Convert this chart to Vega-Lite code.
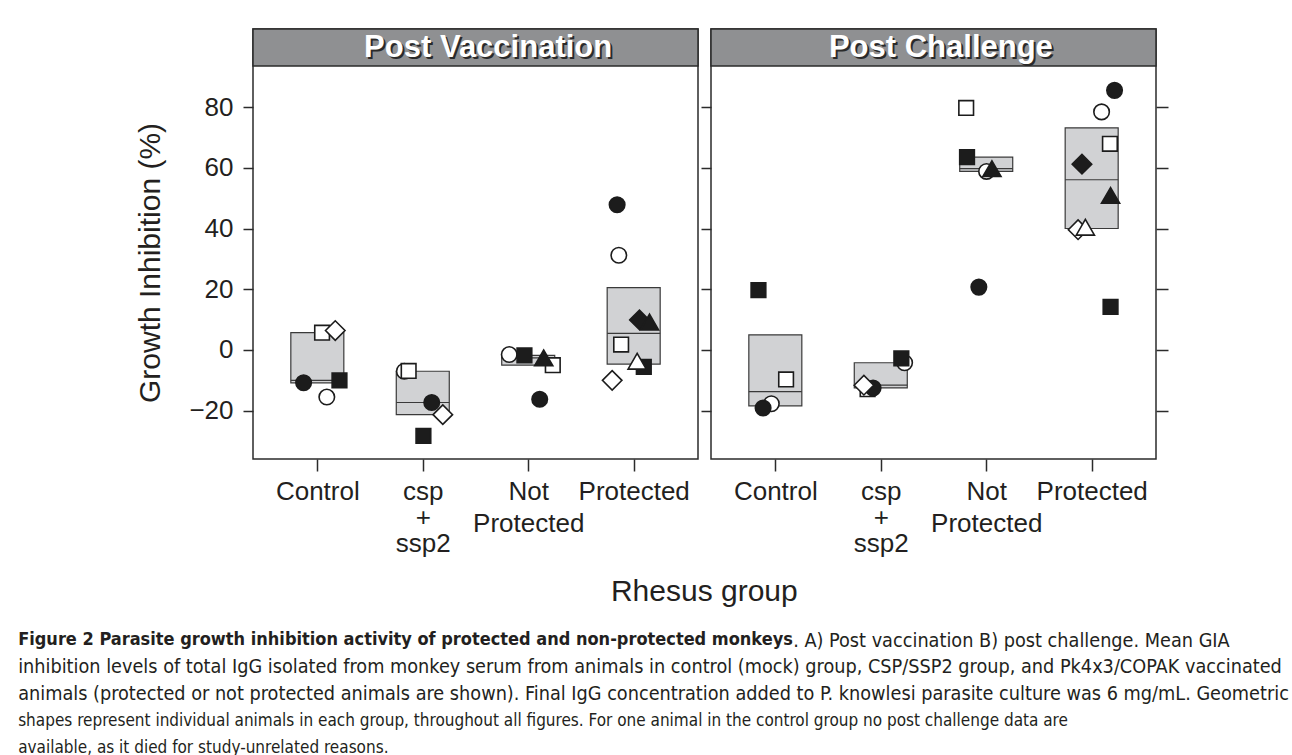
{
  "$schema": "https://vega.github.io/schema/vega-lite/v6.json",
  "background": "white",
  "padding": {"left": 18, "top": 27, "right": 5, "bottom": 5},
  "datasets": {
    "strips": [
      {"phase": "Post Vaccination"},
      {"phase": "Post Challenge"}
    ],
    "boxes": [
      {"phase": "Post Vaccination", "group": 1, "lo": -10.8, "hi": 5.7, "mid": -10.0},
      {"phase": "Post Vaccination", "group": 2, "lo": -21.3, "hi": -7.0, "mid": -17.3},
      {"phase": "Post Vaccination", "group": 3, "lo": -5.0, "hi": -1.8, "mid": -2.6},
      {"phase": "Post Vaccination", "group": 4, "lo": -4.65, "hi": 20.55, "mid": 5.5},
      {"phase": "Post Challenge", "group": 1, "lo": -18.4, "hi": 5.0, "mid": -13.7},
      {"phase": "Post Challenge", "group": 2, "lo": -12.5, "hi": -4.2, "mid": -11.6},
      {"phase": "Post Challenge", "group": 3, "lo": 58.8, "hi": 63.5, "mid": 59.7},
      {"phase": "Post Challenge", "group": 4, "lo": 40.0, "hi": 73.15, "mid": 56.05}
    ],
    "points": [
      {"phase": "Post Vaccination", "x": 0.87, "gi": -10.8, "symbol": "circle", "fill": "filled"},
      {"phase": "Post Vaccination", "x": 1.09, "gi": -15.5, "symbol": "circle", "fill": "open"},
      {"phase": "Post Vaccination", "x": 1.045, "gi": 5.7, "symbol": "square", "fill": "open"},
      {"phase": "Post Vaccination", "x": 1.17, "gi": 6.4, "symbol": "diamond", "fill": "open"},
      {"phase": "Post Vaccination", "x": 1.21, "gi": -10.0, "symbol": "square", "fill": "filled"},
      {"phase": "Post Vaccination", "x": 1.825, "gi": -7.0, "symbol": "circle", "fill": "open"},
      {"phase": "Post Vaccination", "x": 1.866, "gi": -6.9, "symbol": "square", "fill": "open"},
      {"phase": "Post Vaccination", "x": 2.006, "gi": -28.3, "symbol": "square", "fill": "filled"},
      {"phase": "Post Vaccination", "x": 2.085, "gi": -17.3, "symbol": "circle", "fill": "filled"},
      {"phase": "Post Vaccination", "x": 2.19, "gi": -21.3, "symbol": "diamond", "fill": "open"},
      {"phase": "Post Vaccination", "x": 2.82, "gi": -1.5, "symbol": "circle", "fill": "open"},
      {"phase": "Post Vaccination", "x": 2.964, "gi": -1.8, "symbol": "square", "fill": "filled"},
      {"phase": "Post Vaccination", "x": 3.233, "gi": -5.0, "symbol": "square", "fill": "open"},
      {"phase": "Post Vaccination", "x": 3.147, "gi": -2.6, "symbol": "triangle", "fill": "filled"},
      {"phase": "Post Vaccination", "x": 3.109, "gi": -16.2, "symbol": "circle", "fill": "filled"},
      {"phase": "Post Vaccination", "x": 3.843, "gi": 47.8, "symbol": "circle", "fill": "filled"},
      {"phase": "Post Vaccination", "x": 3.859, "gi": 31.2, "symbol": "circle", "fill": "open"},
      {"phase": "Post Vaccination", "x": 3.881, "gi": 1.8, "symbol": "square", "fill": "open"},
      {"phase": "Post Vaccination", "x": 4.096, "gi": -5.6, "symbol": "square", "fill": "filled"},
      {"phase": "Post Vaccination", "x": 4.033, "gi": -3.7, "symbol": "triangle", "fill": "open"},
      {"phase": "Post Vaccination", "x": 3.796, "gi": -10.0, "symbol": "diamond", "fill": "open"},
      {"phase": "Post Vaccination", "x": 4.055, "gi": 9.9, "symbol": "diamond", "fill": "filled"},
      {"phase": "Post Vaccination", "x": 4.15, "gi": 9.2, "symbol": "triangle", "fill": "filled"},
      {"phase": "Post Challenge", "x": 0.84, "gi": 19.75, "symbol": "square", "fill": "filled"},
      {"phase": "Post Challenge", "x": 1.102, "gi": -9.7, "symbol": "square", "fill": "open"},
      {"phase": "Post Challenge", "x": 0.962, "gi": -17.7, "symbol": "circle", "fill": "open"},
      {"phase": "Post Challenge", "x": 0.884, "gi": -19.1, "symbol": "circle", "fill": "filled"},
      {"phase": "Post Challenge", "x": 2.226, "gi": -4.2, "symbol": "circle", "fill": "open"},
      {"phase": "Post Challenge", "x": 2.195, "gi": -2.8, "symbol": "square", "fill": "filled"},
      {"phase": "Post Challenge", "x": 1.875, "gi": -12.9, "symbol": "square", "fill": "open"},
      {"phase": "Post Challenge", "x": 1.927, "gi": -12.5, "symbol": "circle", "fill": "filled"},
      {"phase": "Post Challenge", "x": 1.84, "gi": -11.6, "symbol": "diamond", "fill": "open"},
      {"phase": "Post Challenge", "x": 2.81, "gi": 79.7, "symbol": "square", "fill": "open"},
      {"phase": "Post Challenge", "x": 2.818, "gi": 63.5, "symbol": "square", "fill": "filled"},
      {"phase": "Post Challenge", "x": 2.93, "gi": 20.7, "symbol": "circle", "fill": "filled"},
      {"phase": "Post Challenge", "x": 3.003, "gi": 58.8, "symbol": "circle", "fill": "open"},
      {"phase": "Post Challenge", "x": 3.054, "gi": 59.7, "symbol": "triangle", "fill": "filled"},
      {"phase": "Post Challenge", "x": 4.217, "gi": 85.5, "symbol": "circle", "fill": "filled"},
      {"phase": "Post Challenge", "x": 4.094, "gi": 78.4, "symbol": "circle", "fill": "open"},
      {"phase": "Post Challenge", "x": 4.173, "gi": 67.9, "symbol": "square", "fill": "open"},
      {"phase": "Post Challenge", "x": 3.908, "gi": 61.2, "symbol": "diamond", "fill": "filled"},
      {"phase": "Post Challenge", "x": 4.179, "gi": 50.9, "symbol": "triangle", "fill": "filled"},
      {"phase": "Post Challenge", "x": 4.179, "gi": 14.2, "symbol": "square", "fill": "filled"},
      {"phase": "Post Challenge", "x": 3.871, "gi": 39.6, "symbol": "diamond", "fill": "open"},
      {"phase": "Post Challenge", "x": 3.94, "gi": 40.4, "symbol": "triangle", "fill": "open"}
    ]
  },
  "title": {
    "text": [
      "shapes represent individual animals in each group, throughout all figures. For one animal in the control group no post challenge data are",
      "available, as it died for study-unrelated reasons."
    ],
    "orient": "bottom",
    "anchor": "start",
    "frame": "bounds",
    "baseline": "top",
    "offset": 9,
    "dx": 0,
    "font": "DejaVu Sans Condensed, Liberation Sans Narrow, sans-serif",
    "fontSize": 17,
    "fontWeight": "normal",
    "lineHeight": 27,
    "color": "#231f20"
  },
  "vconcat": [
    {
      "title": {
        "text": "Figure 2 Parasite growth inhibition activity of protected and non-protected monkeys",
        "subtitle": [
          "inhibition levels of total IgG isolated from monkey serum from animals in control (mock) group, CSP/SSP2 group, and Pk4x3/COPAK vaccinated",
          "animals (protected or not protected animals are shown). Final IgG concentration added to P. knowlesi parasite culture was 6 mg/mL. Geometric"
        ],
        "orient": "bottom",
        "anchor": "start",
        "frame": "bounds",
        "baseline": "top",
        "offset": -19,
        "dx": -117,
        "font": "DejaVu Sans Condensed, Liberation Sans Narrow, sans-serif",
        "fontSize": 18,
        "fontWeight": "bold",
        "color": "#231f20",
        "subtitleFont": "DejaVu Sans Condensed, Liberation Sans Narrow, sans-serif",
        "subtitleFontSize": 19.7,
        "subtitleFontWeight": "normal",
        "subtitleColor": "#231f20",
        "subtitleLineHeight": 27,
        "subtitlePadding": 8
      },
      "vconcat": [
        {
          "title": {
            "text": ". A) Post vaccination B) post challenge. Mean GIA",
            "orient": "bottom",
            "anchor": "start",
            "frame": "bounds",
            "baseline": "top",
            "offset": 24,
            "dx": 658,
            "font": "DejaVu Sans Condensed, Liberation Sans Narrow, sans-serif",
            "fontSize": 19.7,
            "fontWeight": "normal",
            "color": "#231f20"
          },
          "vconcat": [
            {
              "title": {
                "text": "Rhesus group",
                "orient": "bottom",
                "anchor": "middle",
                "frame": "bounds",
                "offset": 20,
                "dx": 52,
                "font": "Liberation Sans",
                "fontSize": 30,
                "fontWeight": "normal",
                "color": "#231f20"
              },
              "bounds": "flush",
              "spacing": 13,
              "hconcat": [
                {
                  "width": 445,
                  "height": 430,
                  "resolve": {"axis": {"x": "independent"}},
                  "layer": [
                    {
                      "data": {"name": "strips"},
                      "transform": [{"filter": "datum.phase == 'Post Vaccination'"}],
                      "mark": {"type": "rect", "fill": "#8f9092", "stroke": "#2b2b2b", "strokeWidth": 1.5},
                      "encoding": {
                        "x": {
                          "datum": 0.39, "type": "quantitative",
                          "scale": {"domain": [0.39, 4.61], "nice": false, "zero": false, "padding": 0},
                          "axis": {
                            "orient": "bottom", "values": [1, 2, 4], "title": null,
                            "labelExpr": "datum.value == 1 ? 'Control' : datum.value == 2 ? ['csp', '+', 'ssp2'] : 'Protected'",
                            "labelFont": "Liberation Sans", "labelFontSize": 26, "labelColor": "#231f20", "labelLineHeight": 26,
                            "labelPadding": 7, "labelAngle": 0, "labelBaseline": "top", "labelFlush": false, "labelOverlap": false,
                            "tickSize": 12, "tickWidth": 1.5, "tickColor": "#2b2b2b", "domain": false, "grid": false
                          }
                        },
                        "x2": {"datum": 4.61},
                        "y": {
                          "datum": 93.5, "type": "quantitative",
                          "scale": {"domain": [-35.9, 105.7], "nice": false, "zero": false, "padding": 0},
                          "axis": {
                            "orient": "left", "values": [-20, 0, 20, 40, 60, 80],
                            "title": "Growth Inhibition (%)", "titleFont": "Liberation Sans", "titleFontSize": 30,
                            "titleFontWeight": "normal", "titleColor": "#231f20", "titlePadding": 23, "titleY": 233.5,
                            "labelFont": "Liberation Sans", "labelFontSize": 26, "labelColor": "#231f20",
                            "labelPadding": 10, "labelFlush": false, "labelOverlap": false,
                            "tickSize": 10, "tickWidth": 1.5, "tickColor": "#2b2b2b", "domain": false, "grid": false
                          }
                        },
                        "y2": {"datum": 105.7}
                      }
                    },
                    {
                      "data": {"name": "boxes"},
                      "transform": [{"filter": "datum.phase == 'Post Vaccination'"}],
                      "mark": {"type": "bar", "width": 53, "fill": "#d1d2d4", "stroke": "#3a3a3a", "strokeWidth": 1.2},
                      "encoding": {
                        "x": {
                          "field": "group", "type": "quantitative",
                          "axis": {
                            "orient": "bottom", "values": [3], "title": null,
                            "labelExpr": "['Not', 'Protected']",
                            "labelFont": "Liberation Sans", "labelFontSize": 26, "labelColor": "#231f20", "labelLineHeight": 32,
                            "labelPadding": 7, "labelAngle": 0, "labelBaseline": "top", "labelFlush": false, "labelOverlap": false,
                            "tickSize": 12, "tickWidth": 1.5, "tickColor": "#2b2b2b", "domain": false, "grid": false
                          }
                        },
                        "y": {"field": "lo", "type": "quantitative"},
                        "y2": {"field": "hi"}
                      }
                    },
                    {
                      "data": {"name": "boxes"},
                      "transform": [{"filter": "datum.phase == 'Post Vaccination'"}],
                      "mark": {"type": "tick", "orient": "horizontal", "size": 53, "thickness": 1.2, "color": "#3a3a3a", "opacity": 1},
                      "encoding": {
                        "x": {"field": "group", "type": "quantitative", "axis": null},
                        "y": {"field": "mid", "type": "quantitative"}
                      }
                    },
                    {
                      "data": {"name": "points"},
                      "transform": [{"filter": "datum.phase == 'Post Vaccination'"}],
                      "mark": {"type": "point", "filled": true, "stroke": "#1c1c1c", "strokeWidth": 1.6, "opacity": 1},
                      "encoding": {
                        "x": {"field": "x", "type": "quantitative", "axis": null},
                        "y": {"field": "gi", "type": "quantitative"},
                        "shape": {"field": "symbol", "type": "nominal", "scale": {"domain": ["circle", "square", "diamond", "triangle"], "range": ["circle", "square", "diamond", "triangle-up"]}, "legend": null},
                        "fill": {"field": "fill", "type": "nominal", "scale": {"domain": ["filled", "open"], "range": ["#1c1c1c", "#ffffff"]}, "legend": null},
                        "size": {"field": "symbol", "type": "nominal", "scale": {"type": "ordinal", "domain": ["circle", "square", "diamond", "triangle"], "range": [240, 215, 380, 330]}, "legend": null}
                      }
                    },
                    {
                      "data": {"name": "strips"},
                      "transform": [{"filter": "datum.phase == 'Post Vaccination'"}],
                      "mark": {"type": "text", "font": "Liberation Sans", "fontWeight": "bold", "fontSize": 31, "fill": "#2a2a2a", "dx": 2, "dy": 2, "align": "center", "baseline": "middle"},
                      "encoding": {
                        "x": {"datum": 2.62, "type": "quantitative", "axis": null},
                        "y": {"datum": 99.6, "type": "quantitative"},
                        "text": {"field": "phase"}
                      }
                    },
                    {
                      "data": {"name": "strips"},
                      "transform": [{"filter": "datum.phase == 'Post Vaccination'"}],
                      "mark": {"type": "text", "font": "Liberation Sans", "fontWeight": "bold", "fontSize": 31, "fill": "#ffffff", "align": "center", "baseline": "middle"},
                      "encoding": {
                        "x": {"datum": 2.62, "type": "quantitative", "axis": null},
                        "y": {"datum": 99.6, "type": "quantitative"},
                        "text": {"field": "phase"}
                      }
                    }
                  ]
                },
                {
                  "width": 445,
                  "height": 430,
                  "resolve": {"axis": {"x": "independent", "y": "independent"}},
                  "layer": [
                    {
                      "data": {"name": "strips"},
                      "transform": [{"filter": "datum.phase == 'Post Challenge'"}],
                      "mark": {"type": "rect", "fill": "#8f9092", "stroke": "#2b2b2b", "strokeWidth": 1.5},
                      "encoding": {
                        "x": {
                          "datum": 0.39, "type": "quantitative",
                          "scale": {"domain": [0.39, 4.61], "nice": false, "zero": false, "padding": 0},
                          "axis": {
                            "orient": "bottom", "values": [1, 2, 4], "title": null,
                            "labelExpr": "datum.value == 1 ? 'Control' : datum.value == 2 ? ['csp', '+', 'ssp2'] : 'Protected'",
                            "labelFont": "Liberation Sans", "labelFontSize": 26, "labelColor": "#231f20", "labelLineHeight": 26,
                            "labelPadding": 7, "labelAngle": 0, "labelBaseline": "top", "labelFlush": false, "labelOverlap": false,
                            "tickSize": 12, "tickWidth": 1.5, "tickColor": "#2b2b2b", "domain": false, "grid": false
                          }
                        },
                        "x2": {"datum": 4.61},
                        "y": {
                          "datum": 93.5, "type": "quantitative",
                          "scale": {"domain": [-35.9, 105.7], "nice": false, "zero": false, "padding": 0},
                          "axis": {
                            "orient": "left", "values": [-20, 0, 20, 40, 60, 80], "title": null, "labels": false,
                            "tickSize": 10, "tickWidth": 1.5, "tickColor": "#2b2b2b", "domain": false, "grid": false
                          }
                        },
                        "y2": {"datum": 105.7}
                      }
                    },
                    {
                      "data": {"name": "boxes"},
                      "transform": [{"filter": "datum.phase == 'Post Challenge'"}],
                      "mark": {"type": "bar", "width": 53, "fill": "#d1d2d4", "stroke": "#3a3a3a", "strokeWidth": 1.2},
                      "encoding": {
                        "x": {
                          "field": "group", "type": "quantitative",
                          "axis": {
                            "orient": "bottom", "values": [3], "title": null,
                            "labelExpr": "['Not', 'Protected']",
                            "labelFont": "Liberation Sans", "labelFontSize": 26, "labelColor": "#231f20", "labelLineHeight": 32,
                            "labelPadding": 7, "labelAngle": 0, "labelBaseline": "top", "labelFlush": false, "labelOverlap": false,
                            "tickSize": 12, "tickWidth": 1.5, "tickColor": "#2b2b2b", "domain": false, "grid": false
                          }
                        },
                        "y": {
                          "field": "lo", "type": "quantitative",
                          "axis": {
                            "orient": "right", "values": [-20, 0, 20, 40, 60, 80], "title": null, "labels": false,
                            "tickSize": 12, "tickWidth": 1.5, "tickColor": "#2b2b2b", "domain": false, "grid": false
                          }
                        },
                        "y2": {"field": "hi"}
                      }
                    },
                    {
                      "data": {"name": "boxes"},
                      "transform": [{"filter": "datum.phase == 'Post Challenge'"}],
                      "mark": {"type": "tick", "orient": "horizontal", "size": 53, "thickness": 1.2, "color": "#3a3a3a", "opacity": 1},
                      "encoding": {
                        "x": {"field": "group", "type": "quantitative", "axis": null},
                        "y": {"field": "mid", "type": "quantitative", "axis": null}
                      }
                    },
                    {
                      "data": {"name": "points"},
                      "transform": [{"filter": "datum.phase == 'Post Challenge'"}],
                      "mark": {"type": "point", "filled": true, "stroke": "#1c1c1c", "strokeWidth": 1.6, "opacity": 1},
                      "encoding": {
                        "x": {"field": "x", "type": "quantitative", "axis": null},
                        "y": {"field": "gi", "type": "quantitative", "axis": null},
                        "shape": {"field": "symbol", "type": "nominal", "scale": {"domain": ["circle", "square", "diamond", "triangle"], "range": ["circle", "square", "diamond", "triangle-up"]}, "legend": null},
                        "fill": {"field": "fill", "type": "nominal", "scale": {"domain": ["filled", "open"], "range": ["#1c1c1c", "#ffffff"]}, "legend": null},
                        "size": {"field": "symbol", "type": "nominal", "scale": {"type": "ordinal", "domain": ["circle", "square", "diamond", "triangle"], "range": [240, 215, 380, 330]}, "legend": null}
                      }
                    },
                    {
                      "data": {"name": "strips"},
                      "transform": [{"filter": "datum.phase == 'Post Challenge'"}],
                      "mark": {"type": "text", "font": "Liberation Sans", "fontWeight": "bold", "fontSize": 31, "fill": "#2a2a2a", "dx": 2, "dy": 2, "align": "center", "baseline": "middle"},
                      "encoding": {
                        "x": {"datum": 2.57, "type": "quantitative", "axis": null},
                        "y": {"datum": 99.6, "type": "quantitative", "axis": null},
                        "text": {"field": "phase"}
                      }
                    },
                    {
                      "data": {"name": "strips"},
                      "transform": [{"filter": "datum.phase == 'Post Challenge'"}],
                      "mark": {"type": "text", "font": "Liberation Sans", "fontWeight": "bold", "fontSize": 31, "fill": "#ffffff", "align": "center", "baseline": "middle"},
                      "encoding": {
                        "x": {"datum": 2.57, "type": "quantitative", "axis": null},
                        "y": {"datum": 99.6, "type": "quantitative", "axis": null},
                        "text": {"field": "phase"}
                      }
                    }
                  ]
                }
              ]
            }
          ]
        }
      ]
    }
  ],
  "config": {
    "view": {"stroke": "#2b2b2b", "strokeWidth": 1.5},
    "font": "Liberation Sans"
  }
}
